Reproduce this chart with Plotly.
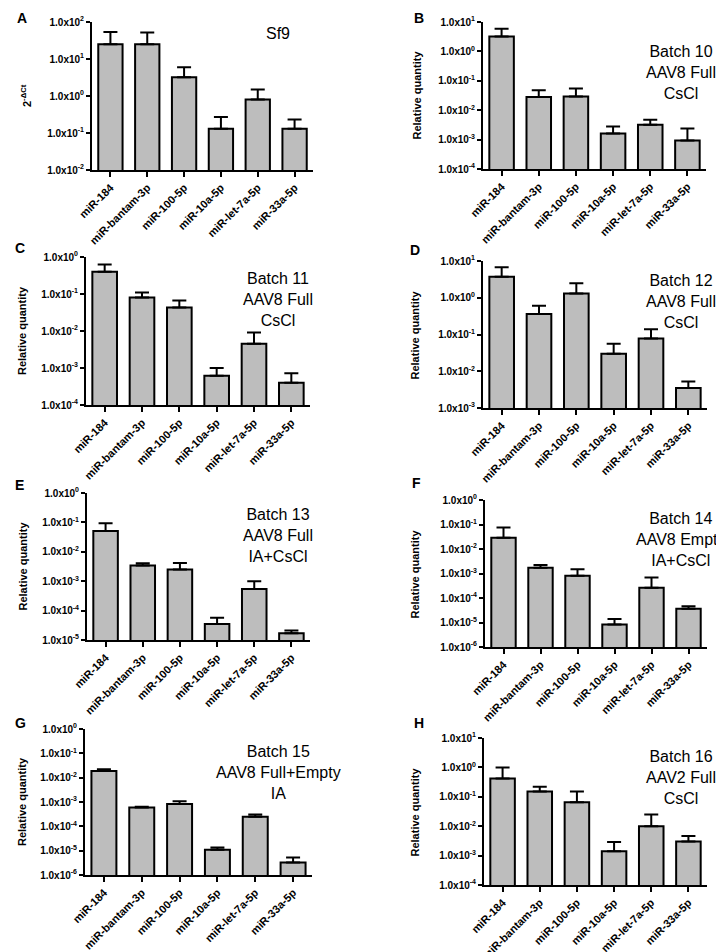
import plotly.graph_objects as go

categories = ["miR-184", "miR-bantam-3p", "miR-100-5p", "miR-10a-5p", "miR-let-7a-5p", "miR-33a-5p"]

# mean values and error-bar tops for each panel
a_vals = [25, 25, 3.2, 0.13, 0.81, 0.13]
a_errs = [54, 52, 6.0, 0.27, 1.5, 0.23]
b_vals = [3.2, 0.028, 0.029, 0.0016, 0.0032, 0.00093]
b_errs = [5.9, 0.048, 0.055, 0.0028, 0.0047, 0.0024]
c_vals = [0.40, 0.081, 0.043, 0.00062, 0.0045, 0.0004]
c_errs = [0.63, 0.11, 0.067, 0.001, 0.0091, 0.00072]
d_vals = [3.7, 0.36, 1.3, 0.030, 0.078, 0.0035]
d_errs = [6.8, 0.61, 2.5, 0.056, 0.14, 0.0053]
e_vals = [0.051, 0.0034, 0.0025, 3.5e-5, 5.4e-4, 1.7e-5]
e_errs = [0.093, 0.0041, 0.0042, 5.7e-5, 1.0e-3, 2.1e-5]
f_vals = [0.029, 0.0017, 8.1e-4, 8.3e-6, 2.6e-4, 3.6e-5]
f_errs = [0.075, 0.0022, 0.0015, 1.4e-5, 6.9e-4, 4.6e-5]
g_vals = [0.019, 5.9e-4, 8.3e-4, 1.1e-5, 2.5e-4, 3.3e-6]
g_errs = [0.022, 6.4e-4, 1.07e-3, 1.35e-5, 3.1e-4, 5.3e-6]
h_vals = [0.42, 0.15, 0.065, 0.0014, 0.01, 0.003]
h_errs = [1.0, 0.22, 0.15, 0.0029, 0.025, 0.0046]

panel_letters = ["A", "B", "C", "D", "E", "F", "G", "H"]
panel_notes = ["Sf9",
               "Batch 10<br>AAV8 Full<br>CsCl",
               "Batch 11<br>AAV8 Full<br>CsCl",
               "Batch 12<br>AAV8 Full<br>CsCl",
               "Batch 13<br>AAV8 Full<br>IA+CsCl",
               "Batch 14<br>AAV8 Empty<br>IA+CsCl",
               "Batch 15<br>AAV8 Full+Empty<br>IA",
               "Batch 16<br>AAV2 Full<br>CsCl"]
y_titles = ["2<sup>-ΔCt</sup>"] + ["Relative quantity"] * 7
y_exp_ranges = [(-2, 2), (-4, 1), (-4, 0), (-3, 1), (-5, 0), (-6, 0), (-6, 0), (-4, 1)]

values = [a_vals, b_vals, c_vals, d_vals, e_vals, f_vals, g_vals, h_vals]
errtops = [a_errs, b_errs, c_errs, d_errs, e_errs, f_errs, g_errs, h_errs]

W, H = 724, 952
# pixel boxes (x0, x1, ytop, ybottom)
boxes = [(84, 305, 14, 162), (475, 698, 14, 161),
         (78, 302, 249, 397), (475, 699, 253, 400),
         (79, 302, 485, 632), (477, 699, 492, 639),
         (77, 304, 721, 867), (476, 699, 730, 877)]
letter_pos = [(7, 10), (404, 10), (5, 240), (400, 242), (5, 477), (402, 475), (5, 715), (404, 715)]
note_pos = [(270, 25), (673, 43), (270, 270), (673, 272), (270, 506), (673, 510), (270, 743), (673, 748)]
ytitle_x = [18, 408, 14, 406, 14, 406, 14, 406]

FONT = "Liberation Sans, Arial, sans-serif"
fig = go.Figure()
annotations = []

for i in range(8):
    idx = "" if i == 0 else str(i + 1)
    vals = values[i]
    ups = [t - v for t, v in zip(errtops[i], vals)]
    fig.add_trace(go.Bar(
        x=categories, y=vals, width=0.66,
        marker=dict(color="#bdbdbd", line=dict(color="black", width=2)),
        error_y=dict(type="data", symmetric=False, array=ups, arrayminus=[0] * 6,
                     color="black", thickness=2, width=7),
        xaxis="x" + idx, yaxis="y" + idx, showlegend=False))
    x0, x1, yt, yb = boxes[i]
    lo, hi = y_exp_ranges[i]
    tickvals = [10 ** e for e in range(lo, hi + 1)]
    ticktext = ["1.0x10<sup>%d</sup>" % e for e in range(lo, hi + 1)]
    fig.update_layout(**{
        "xaxis" + idx: dict(domain=[x0 / W, x1 / W], anchor="y" + idx, automargin=False,
                            range=[-0.5, 5.5], showline=True, linecolor="black", linewidth=2,
                            ticks="outside", ticklen=5, tickwidth=2, tickcolor="black",
                            tickangle=-45, tickfont=dict(family=FONT, size=11, color="black", weight="bold"),
                            showgrid=False, zeroline=False),
        "yaxis" + idx: dict(domain=[1 - yb / H, 1 - yt / H], anchor="x" + idx, type="log",
                            automargin=False,
                            range=[lo, hi], showline=True, linecolor="black", linewidth=2,
                            ticks="outside", ticklen=4, tickwidth=2, tickcolor="black",
                            tickvals=tickvals, ticktext=ticktext,
                            tickfont=dict(family=FONT, size=10, color="black", weight="bold"),
                            showgrid=False, zeroline=False),
    })
    lx, ly = letter_pos[i]
    annotations.append(dict(text="<b>%s</b>" % panel_letters[i], x=lx / W, y=1 - ly / H,
                            xref="paper", yref="paper", xanchor="left", yanchor="middle",
                            showarrow=False, font=dict(family=FONT, size=14, color="black")))
    nx, ny = note_pos[i]
    annotations.append(dict(text=panel_notes[i], x=nx / W, y=1 - (ny - 10) / H,
                            xref="paper", yref="paper", xanchor="center", yanchor="top",
                            showarrow=False, align="center",
                            font=dict(family=FONT, size=16, color="black")))
    annotations.append(dict(text="<b>%s</b>" % y_titles[i], x=ytitle_x[i] / W,
                            y=1 - ((yt + yb) / 2) / H, xref="paper", yref="paper",
                            xanchor="center", yanchor="middle", textangle=-90, showarrow=False,
                            font=dict(family=FONT, size=11, color="black")))

fig.update_layout(width=W, height=H, margin=dict(l=0, r=0, t=0, b=0, autoexpand=False),
                  plot_bgcolor="white", paper_bgcolor="white", annotations=annotations,
                  bargap=0.3)
fig.write_html("out.html")
